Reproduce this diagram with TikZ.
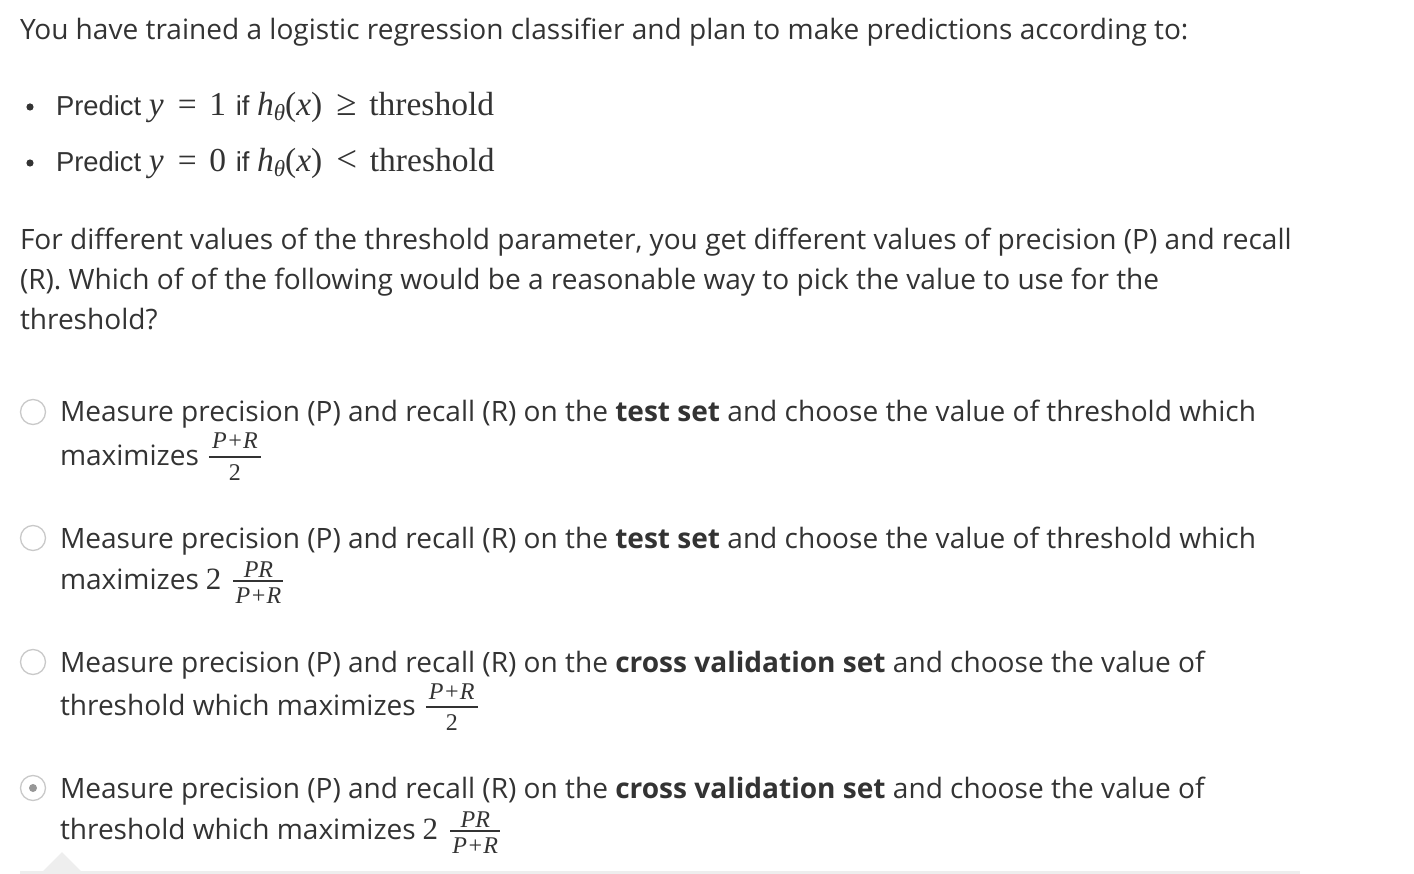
\documentclass[tikz,border=0pt]{standalone}
\usepackage{fontspec}
\setmainfont{Open Sans}
\newfontfamily\arialf{Liberation Sans}
\newfontfamily\mthf{Liberation Serif}
\definecolor{txt}{HTML}{333333}
\definecolor{ring}{HTML}{C9C9C9}
\definecolor{band}{HTML}{EEEEEE}
\newcommand{\Mbig}[1]{{\fontsize{33.5}{36}\selectfont\mthf #1}}
\newcommand{\Mtwo}{{\fontsize{31}{34}\selectfont\mthf 2}}
\newcommand{\Sub}{\raisebox{-5pt}{\fontsize{23}{23}\selectfont θ}}
\newcommand{\Rel}[1]{\hspace{0.42em}#1\hspace{0.38em}}
\begin{document}
\begin{tikzpicture}[x=1pt,y=1pt,
  every node/.style={inner sep=0pt,outer sep=0pt,anchor=base west,text=txt},
  body/.style={font=\fontsize{28.05}{34}\selectfont},
  bul/.style={font=\fontsize{27.4}{30}\arialf},
  frtxt/.style={anchor=base,font=\fontsize{24}{26}\mthf\itshape},
  frnum/.style={anchor=base,font=\fontsize{24}{26}\mthf},
  frbar/.style={draw=txt,line width=1.2pt},
  radio/.style={draw=ring,line width=1.3pt,fill=white},
  dotb/.style={fill=txt}]
\useasboundingbox (0,0) rectangle (1414,-874);

\node[body] (intro) at (20,-40) {You have trained a logistic regression classifier and plan to make predictions according to:};

\fill[dotb] (30,-107) circle (3.6);
\node[bul] (b1) at (56,-116) {Predict \Mbig{\itshape y\upshape\Rel{=}1}\hspace{2pt} if \Mbig{\itshape h\Sub\upshape(\itshape x\upshape)\Rel{\scalebox{1.1}{≥}}threshold}};
\fill[dotb] (30,-163) circle (3.6);
\node[bul] (b2) at (56,-172) {Predict \Mbig{\itshape y\upshape\Rel{=}0}\hspace{2pt} if \Mbig{\itshape h\Sub\upshape(\itshape x\upshape)\Rel{\scalebox{1.1}{<}}threshold}};

\node[body] (p1) at (20,-250) {For different values of the threshold parameter, you get different values of precision (P) and recall};
\node[body] (p2) at (20,-290) {(R). Which of of the following would be a reasonable way to pick the value to use for the};
\node[body] (p3) at (20,-330) {threshold?};

% option 1
\draw[radio] (33,-412) circle (12.5);
\node[body] (o1a) at (60,-422) {Measure precision (P) and recall (R) on the \textbf{test set} and choose the value of threshold which};
\node[body] (o1b) at (60,-465) {maximizes};
\coordinate (f1) at ([xshift=10pt]o1b.base east);
\draw[frbar] ([yshift=8pt]f1) -- ++(52,0);
\node[frtxt] (f1n) at ([xshift=26pt,yshift=16pt]f1) {P+R};
\node[frnum] (f1d) at ([xshift=26pt,yshift=-15pt]f1) {2};

% option 2
\draw[radio] (33,-538) circle (12.5);
\node[body] (o2a) at (60,-548) {Measure precision (P) and recall (R) on the \textbf{test set} and choose the value of threshold which};
\node[body] (o2b) at (60,-589) {maximizes\hspace{7pt}\Mtwo};
\coordinate (f2) at ([xshift=12pt]o2b.base east);
\draw[frbar] ([yshift=8pt]f2) -- ++(50,0);
\node[frtxt] (f2n) at ([xshift=25pt,yshift=12pt]f2) {PR};
\node[frtxt] (f2d) at ([xshift=25pt,yshift=-14pt]f2) {P+R};

% option 3
\draw[radio] (33,-662) circle (12.5);
\node[body] (o3a) at (60,-672) {Measure precision (P) and recall (R) on the \textbf{cross validation set} and choose the value of};
\node[body] (o3b) at (60,-715) {threshold which maximizes};
\coordinate (f3) at ([xshift=10pt]o3b.base east);
\draw[frbar] ([yshift=8pt]f3) -- ++(52,0);
\node[frtxt] (f3n) at ([xshift=26pt,yshift=16pt]f3) {P+R};
\node[frnum] (f3d) at ([xshift=26pt,yshift=-15pt]f3) {2};

% option 4 (selected)
\draw[radio] (33,-788) circle (12.5);
\fill[fill=ring!75!black] (33,-788) circle (4);
\node[body] (o4a) at (60,-798) {Measure precision (P) and recall (R) on the \textbf{cross validation set} and choose the value of};
\node[body] (o4b) at (60,-839) {threshold which maximizes\hspace{7pt}\Mtwo};
\coordinate (f4) at ([xshift=12pt]o4b.base east);
\draw[frbar] ([yshift=8pt]f4) -- ++(50,0);
\node[frtxt] (f4n) at ([xshift=25pt,yshift=12pt]f4) {PR};
\node[frtxt] (f4d) at ([xshift=25pt,yshift=-14pt]f4) {P+R};

% bottom band with pointer
\fill[band] (20,-871) rectangle (1300,-874);
\fill[band] (42,-872) -- (62,-852) -- (82,-872) -- cycle;
\end{tikzpicture}
\end{document}
